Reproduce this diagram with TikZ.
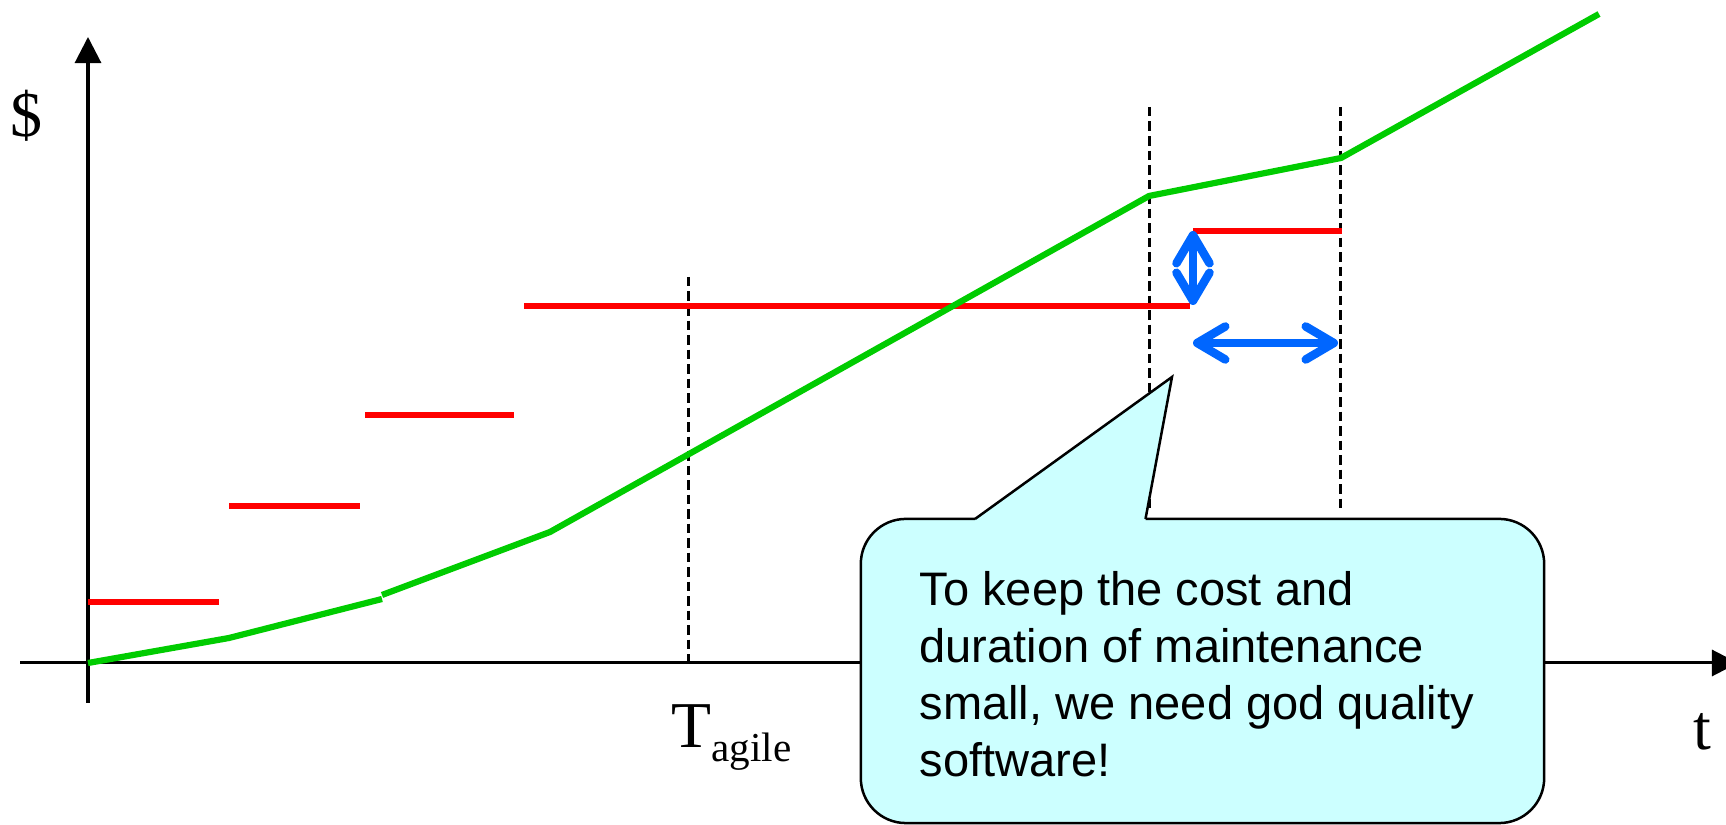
\documentclass[tikz,border=0pt]{standalone}
\usepackage{fontspec}
\setmainfont{Liberation Serif}
\newfontfamily\calloutfont{Liberation Sans}
\usetikzlibrary{arrows.meta}

\definecolor{costred}{HTML}{FF0000}
\definecolor{costgreen}{HTML}{00CC00}
\definecolor{spanblue}{HTML}{0066FF}
\definecolor{calloutfill}{HTML}{CCFFFF}

\tikzset{
  spanhead/.tip={Straight Barb[length=0.28cm,width=0.33cm,line width=0.085cm,round]},
  axis/.style={line width=0.03cm, -{Triangle[length=0.26cm,width=0.26cm]}},
  guide/.style={line width=0.03cm, dash pattern=on 0.095cm off 0.05cm},
  release/.style={line width=0.065cm, costred},
  costline/.style={line width=0.062cm, costgreen, line join=round},
  span/.style={line width=0.072cm, spanblue, {spanhead}-{spanhead}},
  axislabel/.style={inner sep=0pt, font=\fontsize{18.2}{22}\selectfont},
  bubble/.style={draw, line width=0.025cm, fill=calloutfill, rounded corners=0.45cm,
    minimum width=6.83cm, minimum height=3.04cm, inner sep=0pt},
  bubbletext/.style={inner sep=0pt, align=left,
    font=\calloutfont\fontsize{13.37}{16.2}\selectfont}
}

\begin{document}
\begin{tikzpicture}[x=0.01cm, y=-0.01cm]
  \useasboundingbox (0,0) rectangle (1726,825);

  % axes
  \coordinate (O) at (88,663);
  \coordinate (ybot) at (88,703);
  \coordinate (ytop) at (88,37);
  \coordinate (xleft) at (20,663);
  \coordinate (xright) at (1738,663);
  \draw[axis] (ybot) -- (ytop);
  \draw[axis] (xleft) -- (xright);

  \node[axislabel, anchor=base] (dollar) at (27,137) {\$};
  \node[axislabel, anchor=base] (tlabel) at (1702,750) {t};
  \node[inner sep=0pt, anchor=base west] (tagile) at (671,748)
    {\fontsize{18.6}{22}\selectfont T\raisebox{-0.14cm}{\fontsize{11.7}{13}\selectfont agile}};

  % vertical guides
  \coordinate (ga1) at (688,277);
  \coordinate (ga2) at (688,663);
  \coordinate (gb1) at (1149,107);
  \coordinate (gb2) at (1149,510);
  \coordinate (gc1) at (1340,107);
  \coordinate (gc2) at (1340,510);
  \draw[guide] (ga1) -- (ga2);
  \draw[guide] (gb1) -- (gb2);
  \draw[guide] (gc1) -- (gc2);

  % red steps
  \coordinate (r1a) at (88,602);   \coordinate (r1b) at (219,602);
  \coordinate (r2a) at (229,506);  \coordinate (r2b) at (360,506);
  \coordinate (r3a) at (365,415);  \coordinate (r3b) at (514,415);
  \coordinate (r4a) at (524,306);  \coordinate (r4b) at (1190,306);
  \coordinate (r5a) at (1193,231); \coordinate (r5b) at (1342,231);
  \draw[release] (r1a) -- (r1b);
  \draw[release] (r2a) -- (r2b);
  \draw[release] (r3a) -- (r3b);
  \draw[release] (r4a) -- (r4b);
  \draw[release] (r5a) -- (r5b);

  % green cost curve
  \coordinate (c1) at (229,638);
  \coordinate (c2) at (382,599);
  \coordinate (c3) at (382,595);
  \coordinate (c4) at (550,532);
  \coordinate (c5) at (1149,196);
  \coordinate (c6) at (1341,158);
  \coordinate (c7) at (1599,14);
  \draw[costline] (O) -- (c1) -- (c2);
  \draw[costline] (c3) -- (c4) -- (c5) -- (c6) -- (c7);

  % blue spans
  \coordinate (v1) at (1193,231);
  \coordinate (v2) at (1193,305);
  \coordinate (h1) at (1193,343);
  \coordinate (h2) at (1338,343);
  \draw[span] (v1) -- (v2);
  \draw[span] (h1) -- (h2);

  % callout
  \node[bubble] (callout) at (1202.5,671) {};
  \coordinate (pl) at (975,519);
  \coordinate (ptip) at (1172,377);
  \coordinate (pr) at (1145.5,519);
  \fill[calloutfill] (pl) -- (ptip) -- (pr) -- ([yshift=-0.03cm]pr) -- ([yshift=-0.03cm]pl) -- cycle;
  \draw[line width=0.025cm, line join=miter] (pl) -- (ptip) -- (pr);
  \node[bubbletext, anchor=north west] (calltext) at (919,571)
    {To keep the cost and\\duration of maintenance\\small, we need god quality\\software!};
\end{tikzpicture}
\end{document}
